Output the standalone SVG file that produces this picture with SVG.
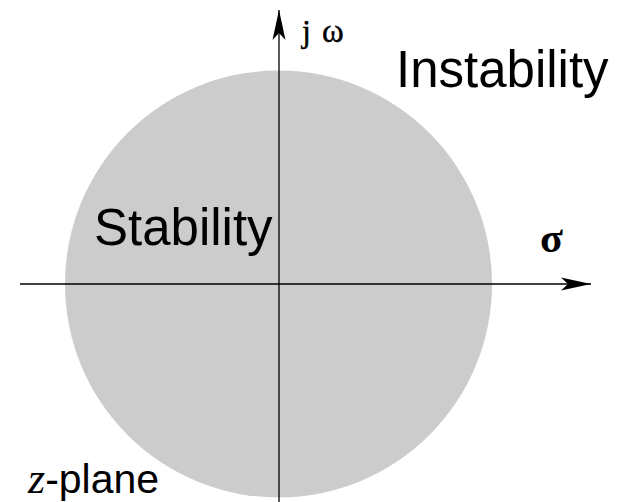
<svg xmlns="http://www.w3.org/2000/svg" width="617" height="502" viewBox="0 0 617 502">
<style>
.sans{font-family:"Liberation Sans",Arial,sans-serif;fill:#000}
.serif{font-family:"Liberation Serif","Times New Roman",serif;fill:#000}
.axis{stroke:#000;stroke-width:1.3;fill:none}
</style>
<defs>
<marker id="ah" viewBox="-31 -7 32 14" refX="0" refY="0" markerWidth="32" markerHeight="14" markerUnits="userSpaceOnUse" orient="auto">
<path d="M0,0 L-30,-6.5 L-23,0 L-30,6.5 Z" fill="#000"/>
</marker>
</defs>
<g id="region">
<circle cx="278.5" cy="284" r="213.5" fill="#cccccc"/>
</g>
<g id="connectors">
<line class="axis" x1="20" y1="284" x2="591" y2="284" marker-end="url(#ah)"/>
<line class="axis" x1="279" y1="502" x2="279" y2="10" marker-end="url(#ah)"/>
</g>
<g id="labels">
<text class="sans" x="396" y="87" font-size="51">Instability</text>
<text class="sans" x="94" y="245" font-size="51">Stability</text>
<text class="serif" x="302" y="42" font-size="32" stroke="#000" stroke-width="0.4">j</text>
<text class="serif" x="322" y="42" font-size="33" stroke="#000" stroke-width="0.4">ω</text>
<text class="serif" x="540" y="252" font-size="42" font-weight="bold">σ</text>
<text x="28" y="493" font-size="41"><tspan class="serif" font-style="italic" font-size="44">z</tspan><tspan class="sans">-plane</tspan></text>
</g>
</svg>
